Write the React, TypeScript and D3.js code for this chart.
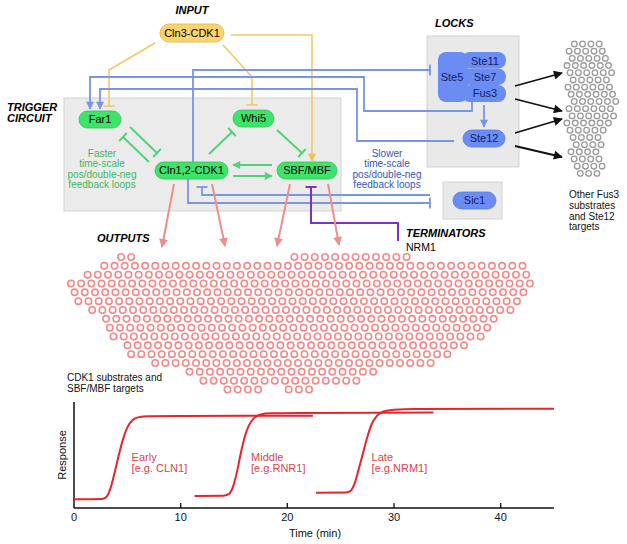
import React from "react";
import * as d3 from "d3";

// ---------- data ----------
const timeTicks = [0, 10, 20, 30, 40];
const timeDomain: [number, number] = [0, 45];

const earlyCurve: [number, number][] = [
  [0, 0.082], [2.6, 0.085], [3.0, 0.1], [3.4, 0.18], [3.8, 0.33], [4.2, 0.5], [4.6, 0.65],
  [5.0, 0.76], [5.5, 0.83], [6.0, 0.855], [7.0, 0.866], [10, 0.869], [22.4, 0.87],
];
const middleCurve: [number, number][] = [
  [11.3, 0.113], [14.0, 0.115], [14.5, 0.13], [14.9, 0.2], [15.3, 0.35], [15.6, 0.5], [16.0, 0.67],
  [16.4, 0.78], [16.9, 0.85], [17.5, 0.882], [18.5, 0.893], [21, 0.896], [33.7, 0.9],
];
const lateCurve: [number, number][] = [
  [22.7, 0.144], [25.4, 0.146], [25.9, 0.16], [26.3, 0.23], [26.7, 0.37], [27.1, 0.52], [27.5, 0.67],
  [27.9, 0.79], [28.4, 0.87], [29.0, 0.91], [30, 0.928], [32, 0.934], [45, 0.936],
];
const curveNames = ["Early", "Middle", "Late"];
const curveExamples = ["[e.g. CLN1]", "[e.g.RNR1]", "[e.g.NRM1]"];
const curveLabelTimes = [5.4, 16.6, 27.9];

// outline of the cloud of CDK1 substrates / SBF-MBF targets
const outputCloudOutline: [number, number][] = [
  [70, 282], [85, 272], [100, 266], [116, 256], [150, 258], [200, 261], [250, 260], [290, 257],
  [340, 254], [400, 256], [440, 262], [470, 259], [516, 259], [531, 268], [533, 285], [526, 300],
  [512, 313], [497, 320], [478, 343], [446, 358], [430, 367], [400, 368], [375, 373], [342, 388],
  [300, 390], [264, 389], [232, 392], [210, 388], [186, 372], [148, 362], [120, 350], [110, 330],
  [90, 312], [76, 303], [68, 290],
];
// outline of the cloud of other Fus3 substrates / Ste12 targets
const lockCloudOutline: [number, number][] = [
  [568, 41], [601, 41], [608, 60], [613, 75], [618, 108], [616, 120], [604, 133], [601, 142],
  [604, 156], [609, 168], [601, 179], [589, 179], [569, 170], [571, 150], [567, 130], [564, 100],
  [566, 67], [567, 50],
];

const FONT = "'Liberation Sans', Arial, Helvetica, sans-serif";

// ---------- helpers ----------
function lattice(poly: [number, number][], step: number, shift: number): [number, number][] {
  const xs = poly.map((p) => p[0]);
  const ys = poly.map((p) => p[1]);
  const x0 = d3.min(xs)!, x1 = d3.max(xs)!, y0 = d3.min(ys)!, y1 = d3.max(ys)!;
  const pts: [number, number][] = [];
  let row = 0;
  for (let y = y0 + 3; y <= y1; y += step * 0.866, row++) {
    for (let x = x0 + ((row * shift) % step) + 2; x <= x1; x += step) {
      if (d3.polygonContains(poly, [x, y])) pts.push([x, y]);
    }
  }
  return pts;
}

type P = [number, number];
const poly = (pts: P[]) => pts.map((p) => p.join(",")).join(" ");

function TBar({ from, to, color, w = 2, len = 11 }: { from: P; to: P; color: string; w?: number; len?: number }) {
  const dx = to[0] - from[0], dy = to[1] - from[1];
  const L = Math.hypot(dx, dy);
  const px = (-dy / L) * (len / 2), py = (dx / L) * (len / 2);
  return (
    <line x1={to[0] + px} y1={to[1] + py} x2={to[0] - px} y2={to[1] - py} stroke={color} strokeWidth={w} />
  );
}

function Path({ pts, color, w = 2, marker, tbar }: { pts: P[]; color: string; w?: number; marker?: string; tbar?: boolean }) {
  const n = pts.length;
  return (
    <g>
      <polyline points={poly(pts)} fill="none" stroke={color} strokeWidth={w} markerEnd={marker ? `url(#${marker})` : undefined} />
      {tbar && <TBar from={pts[n - 2]} to={pts[n - 1]} color={color} w={w} />}
    </g>
  );
}

function Box({ x, y, w, h, label, fill, stroke, color = "#000", fs = 11 }: any) {
  return (
    <g>
      <rect x={x} y={y} width={w} height={h} rx={h / 2} ry={h / 2} fill={fill} stroke={stroke} strokeWidth={0.8} />
      <text x={x + w / 2} y={y + h / 2 + fs * 0.36} textAnchor="middle" fontSize={fs} fill={color} fontFamily={FONT}>
        {label}
      </text>
    </g>
  );
}

const GREEN = "#3ee36a";
const GREEN_STROKE = "#2fc457";
const GREEN_LINE = "#52d27c";
const YELLOW = "#fcd46e";
const YELLOW_LINE = "#f2c865";
const BLUE = "#6b8cf2";
const BLUE_LINE = "#7895e6";
const PINK_LINE = "#ee8e8e";
const PURPLE = "#7a2fd0";

export default function App() {
  const x = d3.scaleLinear().domain(timeDomain).range([74, 554]);
  const y = d3.scaleLinear().domain([0, 1]).range([508, 402]);
  const line = d3
    .line<[number, number]>()
    .x((d) => x(d[0]))
    .y((d) => y(d[1]))
    .curve(d3.curveMonotoneX);
  const curves = [earlyCurve, middleCurve, lateCurve];

  const pinkDots = lattice(outputCloudOutline, 10.2, 3.7);
  const greyDots = lattice(lockCloudOutline, 8.3, 3.1);

  const marker = (id: string, color: string, w = 9, h = 8) => (
    <marker id={id} viewBox="0 0 10 10" refX={9} refY={5} markerWidth={w} markerHeight={h} markerUnits="userSpaceOnUse" orient="auto">
      <path d="M0,0 L10,5 L0,10 z" fill={color} />
    </marker>
  );

  const italic = { fontFamily: FONT, fontWeight: 700, fontStyle: "italic", fontSize: 11 } as const;
  const plain = { fontFamily: FONT, fontSize: 10 } as const;

  return (
    <svg width={627} height={544} style={{ position: "absolute", left: 0, top: 0, background: "#fff" }}>
      <defs>
        {marker("ab", BLUE_LINE)}
        {marker("ay", "#f0c050")}
        {marker("ag", GREEN_LINE, 10, 8)}
        {marker("ap", PINK_LINE, 9, 9)}
        {marker("ak", "#111", 11, 9)}
      </defs>

      {/* panels */}
      <rect x={64} y={98} width={277} height={113} fill="#ebebeb" stroke="#d2d2d2" />
      <rect x={427} y={36} width={92} height={131} fill="#e9e9e9" stroke="#d2d2d2" />
      <rect x={443} y={182} width={59} height={37} fill="#e9e9e9" stroke="#d2d2d2" />

      {/* section labels */}
      <text x={192} y={14} textAnchor="middle" {...italic}>INPUT</text>
      <text x={435} y={27} {...italic}>LOCKS</text>
      <text x={7} y={111} {...italic}>TRIGGER</text>
      <text x={7} y={122} {...italic}>CIRCUIT</text>
      <text x={97} y={242} {...italic}>OUTPUTS</text>
      <text x={406} y={237} {...italic}>TERMINATORS</text>
      <text x={406} y={251} fontFamily={FONT} fontSize={10.5}>NRM1</text>

      {/* yellow (Cln3) edges */}
      <Path pts={[[155, 43], [109, 70], [109, 106]]} color={YELLOW_LINE} w={1.6} tbar />
      <Path pts={[[223, 45], [252, 77], [252, 105]]} color={YELLOW_LINE} w={1.6} tbar />
      <Path pts={[[231, 35], [312, 35], [312, 161]]} color={YELLOW_LINE} w={1.6} marker="ay" />

      {/* blue slow feedback edges */}
      <Path pts={[[193, 162], [193, 70], [430, 70]]} color={BLUE_LINE} w={1.8} tbar />
      <Path pts={[[472, 102], [472, 111], [364, 111], [364, 77], [90, 77], [90, 109]]} color={BLUE_LINE} w={1.8} marker="ab" />
      <Path pts={[[454, 141], [357, 141], [357, 89], [100, 89], [100, 109]]} color={BLUE_LINE} w={1.8} marker="ab" />
      <Path pts={[[188, 179], [188, 203], [430, 203]]} color={BLUE_LINE} w={1.8} tbar />
      <Path pts={[[430, 195], [202, 195], [202, 187]]} color={BLUE_LINE} w={1.8} tbar />
      <Path pts={[[484, 105], [484, 127]]} color={BLUE_LINE} w={1.8} marker="ab" />

      {/* green fast feedback edges */}
      <Path pts={[[130, 127], [157, 153]]} color={GREEN_LINE} w={2} tbar />
      <Path pts={[[149, 162], [123, 137]]} color={GREEN_LINE} w={2} tbar />
      <Path pts={[[209, 154], [232, 132]]} color={GREEN_LINE} w={2} tbar />
      <Path pts={[[277, 130], [302, 153]]} color={GREEN_LINE} w={2} tbar />
      <Path pts={[[272, 165], [233, 165]]} color={GREEN_LINE} w={2} marker="ag" />
      <Path pts={[[233, 176], [272, 176]]} color={GREEN_LINE} w={2} marker="ag" />

      {/* purple terminator */}
      <Path pts={[[398, 241], [398, 223], [311, 223], [311, 187]]} color={PURPLE} w={2} tbar />

      {/* pink output arrows */}
      <Path pts={[[174, 184], [162, 247]]} color={PINK_LINE} w={2} marker="ap" />
      <Path pts={[[212, 184], [225, 246]]} color={PINK_LINE} w={2} marker="ap" />
      <Path pts={[[290, 184], [277, 246]]} color={PINK_LINE} w={2} marker="ap" />
      <Path pts={[[328, 184], [339, 245]]} color={PINK_LINE} w={2} marker="ap" />

      {/* black lock arrows */}
      <Path pts={[[515, 86], [562, 73]]} color="#111" w={1.8} marker="ak" />
      <Path pts={[[515, 99], [562, 111]]} color="#111" w={1.8} marker="ak" />
      <Path pts={[[515, 133], [562, 119]]} color="#111" w={1.8} marker="ak" />
      <Path pts={[[515, 146], [562, 157]]} color="#111" w={1.8} marker="ak" />

      {/* nodes */}
      <Box x={160} y={24} w={64} h={18} label="Cln3-CDK1" fill={YELLOW} stroke="#e3b444" />
      <Box x={79} y={111} w={42} h={17} label="Far1" fill={GREEN} stroke={GREEN_STROKE} />
      <Box x={233} y={110} w={41} h={17} label="Whi5" fill={GREEN} stroke={GREEN_STROKE} />
      <Box x={155} y={162} w={73} h={17} label="Cln1,2-CDK1" fill={GREEN} stroke={GREEN_STROKE} />
      <Box x={277} y={162} w={60} h={17} label="SBF/MBF" fill={GREEN} stroke={GREEN_STROKE} />

      {/* Ste5 scaffold complex */}
      <rect x={438} y={52} width={30} height={50} rx={8} fill={BLUE} />
      <rect x={462} y={52} width={44} height={16.5} rx={8} fill={BLUE} />
      <rect x={462} y={68.5} width={44} height={16.5} rx={8} fill={BLUE} />
      <rect x={462} y={85} width={44} height={17} rx={8} fill={BLUE} />
      <text x={452} y={81} textAnchor="middle" fontFamily={FONT} fontSize={11} fill="#14206a">Ste5</text>
      <text x={485} y={65} textAnchor="middle" fontFamily={FONT} fontSize={11} fill="#14206a">Ste11</text>
      <text x={485} y={81} textAnchor="middle" fontFamily={FONT} fontSize={11} fill="#14206a">Ste7</text>
      <text x={485} y={97} textAnchor="middle" fontFamily={FONT} fontSize={11} fill="#14206a">Fus3</text>
      <Box x={463} y={130} w={42} h={17} label="Ste12" fill={BLUE} stroke="#5a7be0" color="#14206a" />
      <Box x={453} y={192} w={43} h={17} label="Sic1" fill={BLUE} stroke="#5a7be0" color="#14206a" />

      {/* loop annotations */}
      {["Faster", "time-scale", "pos/double-neg", "feedback loops"].map((t, i) => (
        <text key={"g" + i} x={102} y={157 + i * 10.4} textAnchor="middle" {...plain} fill="#3cb95c">{t}</text>
      ))}
      {["Slower", "time-scale", "pos/double-neg", "feedback loops"].map((t, i) => (
        <text key={"b" + i} x={387} y={157 + i * 10.4} textAnchor="middle" {...plain} fill="#3456b8">{t}</text>
      ))}
      {["Other Fus3", "substrates", "and Ste12", "targets"].map((t, i) => (
        <text key={"o" + i} x={569} y={198 + i * 10.8} {...plain} fill="#111">{t}</text>
      ))}
      {["CDK1 substrates and", "SBF/MBF targets"].map((t, i) => (
        <text key={"c" + i} x={67} y={381 + i * 11} fontFamily={FONT} fontSize={10} fill="#111">{t}</text>
      ))}

      {/* clouds */}
      {greyDots.map((p, i) => (
        <circle key={"gd" + i} cx={p[0]} cy={p[1]} r={2.8} fill="#fff" stroke="#9a9a9a" strokeWidth={1.3} />
      ))}
      {pinkDots.map((p, i) => (
        <circle key={"pd" + i} cx={p[0]} cy={p[1]} r={3.2} fill="#fff" stroke="#f28a8a" strokeWidth={1.6} />
      ))}

      {/* response chart */}
      <g>
        <line x1={74} y1={402} x2={74} y2={508} stroke="#111" strokeWidth={1.5} />
        <line x1={74} y1={508} x2={x(45)} y2={508} stroke="#111" strokeWidth={1.5} />
        {timeTicks.map((t) => (
          <g key={t}>
            {t > 0 && <line x1={x(t)} x2={x(t)} y1={503} y2={508} stroke="#111" strokeWidth={1.3} />}
            <text x={x(t)} y={521} textAnchor="middle" fontFamily={FONT} fontSize={11} fill="#111">{t}</text>
          </g>
        ))}
        <text x={315} y={537} textAnchor="middle" fontFamily={FONT} fontSize={11} fill="#111">Time (min)</text>
        <text transform="translate(66,455) rotate(-90)" textAnchor="middle" fontFamily={FONT} fontSize={11} fill="#111">Response</text>
        {curves.map((c, i) => (
          <path key={i} d={line(c) || ""} fill="none" stroke="#e8232b" strokeWidth={2} />
        ))}
        {curveNames.map((n, i) => (
          <g key={n}>
            <text x={x(curveLabelTimes[i])} y={461} fontFamily={FONT} fontSize={11} fill="#d9434a">{n}</text>
            <text x={x(curveLabelTimes[i])} y={472} fontFamily={FONT} fontSize={11} fill="#d9434a">{curveExamples[i]}</text>
          </g>
        ))}
      </g>
    </svg>
  );
}
